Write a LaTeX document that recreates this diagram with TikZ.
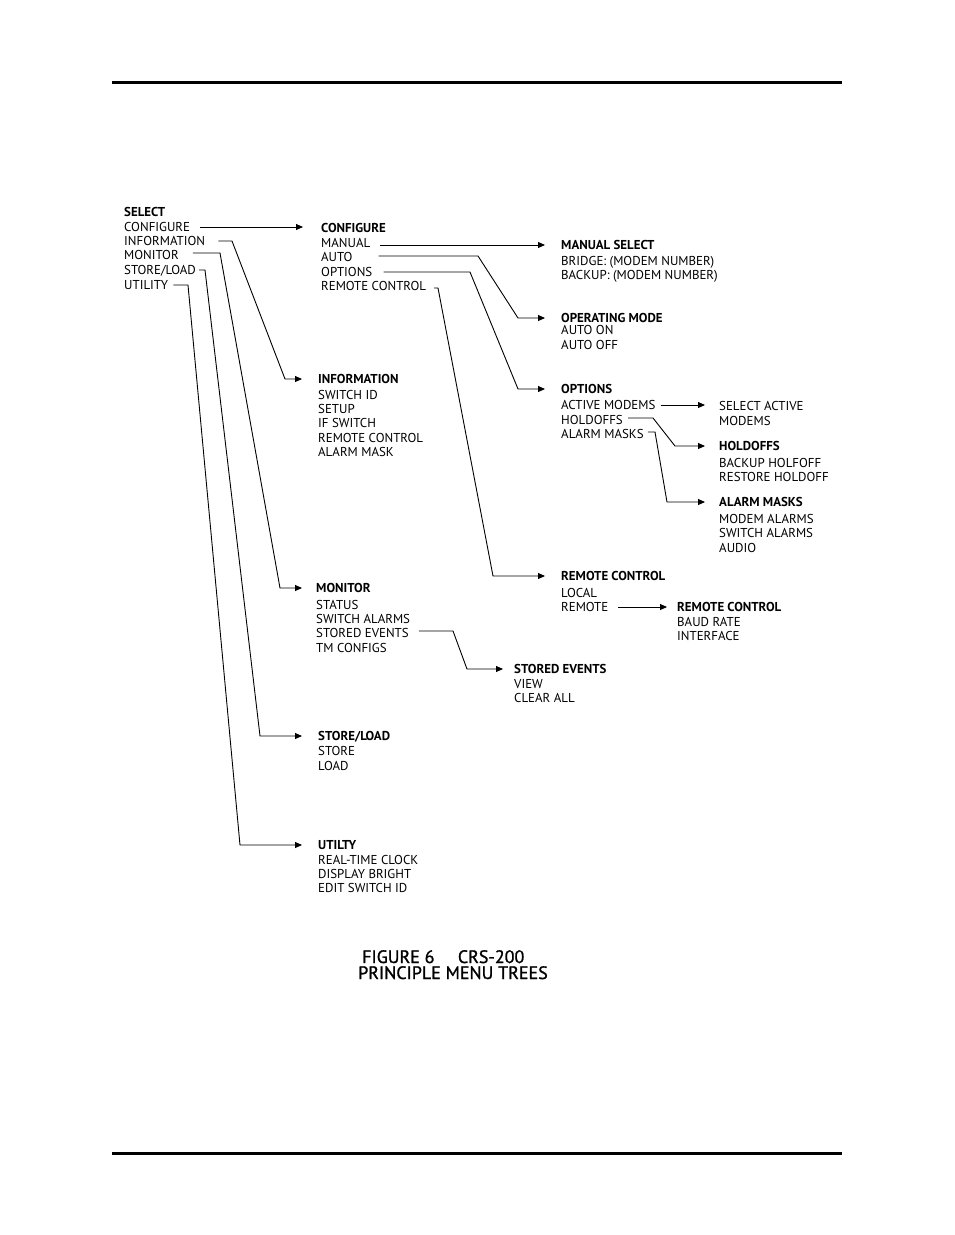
\documentclass[tikz,border=0pt]{standalone}
\usepackage{fontspec}
\setmainfont{PT Sans}
\newfontfamily\capfont{PT Sans}[FakeBold=1.2]
\usetikzlibrary{arrows.meta,calc}
\begin{document}
\begin{tikzpicture}[x=1pt,y=-1pt,
  itm/.style={anchor=west, inner sep=0pt, text height=9pt, text depth=0pt, font=\fontsize{12.9}{14}\selectfont},
  hdr/.style={itm, font=\fontsize{12.9}{14}\selectfont\bfseries},
  capt/.style={anchor=west, inner sep=0pt, text height=12pt, text depth=0pt, font=\capfont\fontsize{18}{19}\selectfont},
  link/.style={line width=0.9pt, line join=miter},
  arr/.style={link, -{Triangle[length=7pt,width=6pt]}},
  rule/.style={line width=3pt}]
\useasboundingbox (0,0) rectangle (954,1235);
% page rules
\draw[rule] (112,82) -- (842,82);
\draw[rule] (112,1153) -- (842,1153);

% SELECT column
\node[hdr] (sel)    at (124,212) {SELECT};
\node[itm] (sconf)  at (124,227) {CONFIGURE};
\node[itm] (sinfo)  at (124,241) {INFORMATION};
\node[itm] (smon)   at (124,255) {MONITOR};
\node[itm] (sstore) at (124,270) {STORE/LOAD};
\node[itm] (sutil)  at (124,285) {UTILITY};

% CONFIGURE column
\node[hdr] (cH)    at (321,228) {CONFIGURE};
\node[itm] (cman)  at (321,243) {MANUAL};
\node[itm] (cauto) at (321,257) {AUTO};
\node[itm] (copt)  at (321,272) {OPTIONS};
\node[itm] (crem)  at (321,286) {REMOTE CONTROL};

% MANUAL SELECT
\node[hdr] (manH) at (561,245) {MANUAL SELECT};
\node[itm] (man1) at (561,261) {BRIDGE: (MODEM NUMBER)};
\node[itm] (man2) at (561,275) {BACKUP: (MODEM NUMBER)};

% OPERATING MODE
\node[hdr] (opH) at (561,318) {OPERATING MODE};
\node[itm] (op1) at (561,330) {AUTO ON};
\node[itm] (op2) at (561,345) {AUTO OFF};

% OPTIONS
\node[hdr] (optH)   at (561,389) {OPTIONS};
\node[itm] (oact)   at (561,405) {ACTIVE MODEMS};
\node[itm] (ohold)  at (561,420) {HOLDOFFS};
\node[itm] (oalarm) at (561,434) {ALARM MASKS};

\node[itm] (sa1) at (719,406) {SELECT ACTIVE};
\node[itm] (sa2) at (719,421) {MODEMS};

\node[hdr] (holdH) at (719,446) {HOLDOFFS};
\node[itm] (hold1) at (719,463) {BACKUP HOLFOFF};
\node[itm] (hold2) at (719,477) {RESTORE HOLDOFF};

\node[hdr] (alH) at (719,502) {ALARM MASKS};
\node[itm] (al1) at (719,519) {MODEM ALARMS};
\node[itm] (al2) at (719,533) {SWITCH ALARMS};
\node[itm] (al3) at (719,548) {AUDIO};

% REMOTE CONTROL
\node[hdr] (remH)  at (561,576) {REMOTE CONTROL};
\node[itm] (rloc)  at (561,593) {LOCAL};
\node[itm] (rrem)  at (561,607) {REMOTE};

\node[hdr] (rc2H) at (677,607) {REMOTE CONTROL};
\node[itm] (rc21) at (677,622) {BAUD RATE};
\node[itm] (rc22) at (677,636) {INTERFACE};

% INFORMATION
\node[hdr] (infH) at (318,379) {INFORMATION};
\node[itm] (inf1) at (318,395) {SWITCH ID};
\node[itm] (inf2) at (318,409) {SETUP};
\node[itm] (inf3) at (318,423) {IF SWITCH};
\node[itm] (inf4) at (318,438) {REMOTE CONTROL};
\node[itm] (inf5) at (318,452) {ALARM MASK};

% MONITOR
\node[hdr] (monH)    at (316,588) {MONITOR};
\node[itm] (mon1)    at (316,605) {STATUS};
\node[itm] (mon2)    at (316,619) {SWITCH ALARMS};
\node[itm] (mstored) at (316,633) {STORED EVENTS};
\node[itm] (mon4)    at (316,648) {TM CONFIGS};

\node[hdr] (seH) at (514,669) {STORED EVENTS};
\node[itm] (se1) at (514,684) {VIEW};
\node[itm] (se2) at (514,698) {CLEAR ALL};

% STORE/LOAD
\node[hdr] (stH) at (318,736) {STORE/LOAD};
\node[itm] (st1) at (318,751) {STORE};
\node[itm] (st2) at (318,766) {LOAD};

% UTILITY
\node[hdr] (utH) at (318,845) {UTILTY};
\node[itm] (ut1) at (318,860) {REAL-TIME CLOCK};
\node[itm] (ut2) at (318,874) {DISPLAY BRIGHT};
\node[itm] (ut3) at (318,888) {EDIT SWITCH ID};

% caption
\node[capt] (cap1) at (362,957) {FIGURE 6\hspace{1.3em}CRS-200};
\node[capt] (cap2) at (358,973) {PRINCIPLE MENU TREES};

% connectors from SELECT
\draw[arr] ($(sconf.east)+(10,0)$) -- ($(cH.west |- sconf.east)+(-18,0)$);
\draw[arr] ($(sinfo.east)+(13,0)$) -- (232,0 |- sinfo.east) -- (285,0 |- infH.west) -- ($(infH.west)+(-16,0)$);
\draw[arr] ($(smon.east)+(14,-2)$) -- ($(220,0 |- smon.east)+(0,-2)$) -- (280,0 |- monH.west) -- ($(monH.west)+(-14,0)$);
\draw[arr] ($(sstore.east)+(3,0)$) -- (205,0 |- sstore.east) -- (260,0 |- stH.west) -- ($(stH.west)+(-16,0)$);
\draw[arr] ($(sutil.east)+(5,0)$) -- (188,0 |- sutil.east) -- (240,0 |- utH.west) -- ($(utH.west)+(-16,0)$);

% connectors from CONFIGURE
\draw[arr] ($(cman.east |- manH.west)+(10,0)$) -- ($(manH.west)+(-16,0)$);
\draw[arr] ($(cauto.east)+(26,-1)$) -- ($(478,0 |- cauto.east)+(0,-1)$) -- (518,0 |- opH.west) -- ($(opH.west)+(-16,0)$);
\draw[arr] ($(copt.east)+(11,0)$) -- (470,0 |- copt.east) -- (518,0 |- optH.west) -- ($(optH.west)+(-16,0)$);
\draw[arr] ($(crem.east)+(8,2)$) -- ($(438,0 |- crem.east)+(0,2)$) -- (493,0 |- remH.west) -- ($(remH.west)+(-16,0)$);

% connectors from OPTIONS
\draw[arr] ($(oact.east)+(5,0)$) -- ($(sa1.west |- oact.east)+(-14,0)$);
\draw[arr] ($(ohold.east)+(5,-2)$) -- ($(653,0 |- ohold.east)+(0,-2)$) -- (675,0 |- holdH.west) -- ($(holdH.west)+(-14,0)$);
\draw[arr] ($(oalarm.east)+(4,-2)$) -- ($(655,0 |- oalarm.east)+(0,-2)$) -- (667,0 |- alH.west) -- ($(alH.west)+(-14,0)$);

% REMOTE -> REMOTE CONTROL
\draw[arr] ($(rrem.east)+(10,0)$) -- ($(rc2H.west)+(-10,0)$);

% STORED EVENTS
\draw[arr] ($(mstored.east)+(10,-2)$) -- ($(453,0 |- mstored.east)+(0,-2)$) -- (467,0 |- seH.west) -- ($(seH.west)+(-11,0)$);
\end{tikzpicture}
\end{document}
